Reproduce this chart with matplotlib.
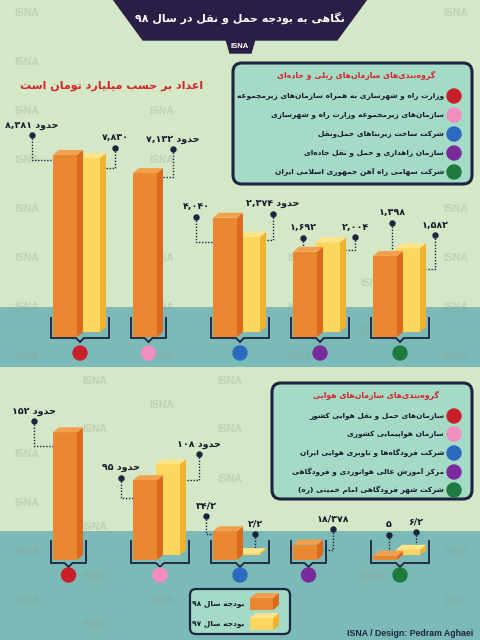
import re
import matplotlib
matplotlib.use("Agg")
import matplotlib.pyplot as plt
from matplotlib.patches import Polygon, FancyBboxPatch, Circle
from matplotlib.path import Path
from matplotlib.patches import PathPatch

# ------------------------------------------------------------------ data
rail_orgs = [
    "وزارت راه و شهرسازی به همراه سازمان‌های زیرمجموعه",
    "سازمان‌های زیرمجموعه وزارت راه و شهرسازی",
    "شرکت ساخت زیربناهای حمل‌ونقل",
    "سازمان راهداری و حمل و نقل جاده‌ای",
    "شرکت سهامی راه آهن جمهوری اسلامی ایران",
]
air_orgs = [
    "سازمان‌های حمل و نقل هوایی کشور",
    "سازمان هواپیمایی کشوری",
    "شرکت فرودگاه‌ها و ناوبری هوایی ایران",
    "مرکز آموزش عالی هوانوردی و فرودگاهی",
    "شرکت شهر فرودگاهی امام خمینی (ره)",
]
rail_98 = [8381, 7132, 4040, 1692, 1398]
rail_97 = [7830, None, 2374, 2004, 1582]
rail_98_approx = [True, True, False, False, False]
rail_97_approx = [False, False, True, False, False]
air_98 = [152, 95, 34.2, 18.378, 5]
air_97 = [None, 108, 2.2, None, 6.2]
air_98_approx = [True, True, False, False, False]
air_97_approx = [False, True, False, False, False]

title = "نگاهی به بودجه حمل و نقل در سال ۹۸"
subtitle = "اعداد بر حسب میلیارد تومان است"
rail_legend_title = "گروه‌بندی‌های سازمان‌های ریلی و جاده‌ای"
air_legend_title = "گروه‌بندی‌های سازمان‌های هوایی"
year_labels = ["بودجه سال ۹۸", "بودجه سال ۹۷"]
approx_word = "حدود"
credit = "ISNA / Design: Pedram Aghaei"

# ------------------------------------------------------------------ styles
group_colors = ["#c8202b", "#f28dc0", "#2a6bbf", "#7a2b9b", "#1f7a3d"]
BG = "#d4e7c6"
TEAL = "#7bbab7"
MINT = "#a4dac6"
NAVY = "#1c2440"
RED_TXT = "#d3262b"
OR = ("#ea8832", "#dc6a1e", "#f3a04e")   # front, side, top
YE = ("#fdd75d", "#f2b22e", "#fde489")
WM = "#8e9a8e"

# ------------------------------------------------------------------ persian shaping
FORMS = {
    '\u0627': ('\uFE8D', '\uFE8E', None, None),
    '\u0622': ('\uFE81', '\uFE82', None, None),
    '\u0628': ('\uFE8F', '\uFE90', '\uFE91', '\uFE92'),
    '\u067E': ('\uFB56', '\uFB57', '\uFB58', '\uFB59'),
    '\u062A': ('\uFE95', '\uFE96', '\uFE97', '\uFE98'),
    '\u062B': ('\uFE99', '\uFE9A', '\uFE9B', '\uFE9C'),
    '\u062C': ('\uFE9D', '\uFE9E', '\uFE9F', '\uFEA0'),
    '\u0686': ('\uFB7A', '\uFB7B', '\uFB7C', '\uFB7D'),
    '\u062D': ('\uFEA1', '\uFEA2', '\uFEA3', '\uFEA4'),
    '\u062E': ('\uFEA5', '\uFEA6', '\uFEA7', '\uFEA8'),
    '\u062F': ('\uFEA9', '\uFEAA', None, None),
    '\u0630': ('\uFEAB', '\uFEAC', None, None),
    '\u0631': ('\uFEAD', '\uFEAE', None, None),
    '\u0632': ('\uFEAF', '\uFEB0', None, None),
    '\u0698': ('\uFB8A', '\uFB8B', None, None),
    '\u0633': ('\uFEB1', '\uFEB2', '\uFEB3', '\uFEB4'),
    '\u0634': ('\uFEB5', '\uFEB6', '\uFEB7', '\uFEB8'),
    '\u0635': ('\uFEB9', '\uFEBA', '\uFEBB', '\uFEBC'),
    '\u0636': ('\uFEBD', '\uFEBE', '\uFEBF', '\uFEC0'),
    '\u0637': ('\uFEC1', '\uFEC2', '\uFEC3', '\uFEC4'),
    '\u0638': ('\uFEC5', '\uFEC6', '\uFEC7', '\uFEC8'),
    '\u0639': ('\uFEC9', '\uFECA', '\uFECB', '\uFECC'),
    '\u063A': ('\uFECD', '\uFECE', '\uFECF', '\uFED0'),
    '\u0641': ('\uFED1', '\uFED2', '\uFED3', '\uFED4'),
    '\u0642': ('\uFED5', '\uFED6', '\uFED7', '\uFED8'),
    '\u06A9': ('\uFB8E', '\uFB8F', '\uFB90', '\uFB91'),
    '\u0643': ('\uFED9', '\uFEDA', '\uFEDB', '\uFEDC'),
    '\u06AF': ('\uFB92', '\uFB93', '\uFB94', '\uFB95'),
    '\u0644': ('\uFEDD', '\uFEDE', '\uFEDF', '\uFEE0'),
    '\u0645': ('\uFEE1', '\uFEE2', '\uFEE3', '\uFEE4'),
    '\u0646': ('\uFEE5', '\uFEE6', '\uFEE7', '\uFEE8'),
    '\u0647': ('\uFEE9', '\uFEEA', '\uFEEB', '\uFEEC'),
    '\u0648': ('\uFEED', '\uFEEE', None, None),
    '\u06CC': ('\uFBFC', '\uFBFD', '\uFBFE', '\uFBFF'),
    '\u064A': ('\uFEF1', '\uFEF2', '\uFEF3', '\uFEF4'),
}


def _shape(s):
    out, i, n = [], 0, len(s)

    def joins_next(c):
        return c in FORMS and FORMS[c][2] is not None

    while i < n:
        c = s[i]
        if c not in FORMS:
            if c != '\u200c':
                out.append(c)
            i += 1
            continue
        cp = i > 0 and joins_next(s[i - 1])
        if c == '\u0644' and i + 1 < n and s[i + 1] in ('\u0627', '\u0622'):
            lig = ('\uFEFB', '\uFEFC') if s[i + 1] == '\u0627' else ('\uFEF5', '\uFEF6')
            out.append(lig[1] if cp else lig[0])
            i += 2
            continue
        cn = joins_next(c) and i + 1 < n and s[i + 1] in FORMS
        f = FORMS[c]
        out.append(f[3] if (cp and cn) else f[1] if cp else f[2] if cn else f[0])
        i += 1
    return ''.join(out)


_LTR = re.compile(r'[0-9\u06F0-\u06F9A-Za-z]+(?:[,./][0-9\u06F0-\u06F9]+)*')
_MIRROR = {'(': ')', ')': '('}


def fa(s):
    s = _shape(s)
    toks, pos = [], 0
    for m in _LTR.finditer(s):
        toks.extend(_MIRROR.get(ch, ch) for ch in s[pos:m.start()])
        toks.append(m.group())
        pos = m.end()
    toks.extend(_MIRROR.get(ch, ch) for ch in s[pos:])
    return ''.join(reversed(toks))


def fdig(t):
    return t.translate(str.maketrans('0123456789', '۰۱۲۳۴۵۶۷۸۹'))


FA = ['DejaVu Sans']

# ------------------------------------------------------------------ figure
W, H = 480, 640
fig = plt.figure(figsize=(W / 100, H / 100), dpi=100)
fig.patch.set_facecolor(BG)
bg = fig.add_axes([0, 0, 1, 1])
bg.set_xlim(0, W)
bg.set_ylim(H, 0)
bg.axis('off')

# areas that hide the watermark (banner, titles, boxes); value labels added later
covered = [(105, 0, 375, 58), (0, 72, 215, 100), (225, 55, 480, 192),
           (262, 375, 480, 507), (180, 582, 300, 640), (330, 620, 480, 640)]

# teal bands
bg.add_patch(plt.Rectangle((0, 307), W, 60, color=TEAL, zorder=0.3, lw=0))
bg.add_patch(plt.Rectangle((0, 531), W, H - 531, color=TEAL, zorder=0.3, lw=0))

# title banner
bg.add_patch(Polygon([(113, -1), (367, -1), (337, 40), (143, 40)], closed=True,
                     color="#2a1d46", zorder=3))
bg.add_patch(Polygon([(226, 39), (255, 39), (251, 53), (230, 53)], closed=True,
                     color="#2a1d46", zorder=3))
bg.text(240, 46.5, "ISNA", color='white', fontsize=5.5, fontweight='bold',
        family='Liberation Sans', ha='center', va='center', zorder=4)
bg.text(240, 18, fa(title), color='white', fontsize=7.9, fontweight='bold',
        family=FA, ha='center', va='center', zorder=4)

bg.text(112, 86, fa(subtitle), color=RED_TXT, fontsize=8.0, fontweight='bold',
        family=FA, ha='center', va='center', zorder=4)


def legend_box(x0, y0, x1, y1, title_txt, items, ys, text_right, circ_x):
    bg.add_patch(FancyBboxPatch((x0, y0), x1 - x0, y1 - y0,
                                boxstyle="round,pad=0,rounding_size=9",
                                fc=MINT, ec=NAVY, lw=2.2, zorder=3))
    bg.text((x0 + x1) / 2 + 4, y0 + 12, fa(title_txt), color=RED_TXT, fontsize=5.6,
            fontweight='bold', family=FA, ha='center', va='center', zorder=4)
    for txt, y, col in zip(items, ys, group_colors):
        bg.add_patch(Circle((circ_x, y), 7, color=col, zorder=4))
        bg.text(text_right, y, fa(txt), color='#15172a', fontsize=5.3,
                fontweight='bold', family=FA, ha='right', va='center', zorder=4)


legend_box(233, 63, 472, 184, rail_legend_title, rail_orgs,
           [96, 115, 134, 153, 172], 444, 454)
legend_box(272, 383, 472, 499, air_legend_title, air_orgs,
           [416, 434, 453, 472, 490], 444, 454)

# ------------------------------------------------------------------ bar axes
PX_X = 80.0       # px per group
X0 = 65.0         # px centre of first 98 bar
BAR_W = 24 / PX_X
YE_SHIFT_X = 23 / PX_X
DEPTH_X = 6 / PX_X
DEPTH_PX = 5.0


def make_axes(zero_px, ky):
    ax = fig.add_axes([0, 0, 1, 1])
    ax.set_xlim(-X0 / PX_X, (W - X0) / PX_X)
    ax.set_ylim((zero_px - H) / ky, zero_px / ky)
    ax.axis('off')
    ax.patch.set_alpha(0)
    return ax


def to_px(ax, x, y):
    dx, dy = ax.transData.transform((x, y))
    return dx, H - dy


def draw_box(ax, xc, bottom, top, cols, dy, z):
    xl, xr = xc - BAR_W / 2, xc + BAR_W / 2
    ax.bar(xc, top - bottom, bottom=bottom, width=BAR_W, color=cols[0], lw=0, zorder=z)
    ax.add_patch(Polygon([(xr, bottom), (xr + DEPTH_X, bottom + dy),
                          (xr + DEPTH_X, top + dy), (xr, top)], closed=True,
                         color=cols[1], lw=0, zorder=z))
    ax.add_patch(Polygon([(xl, top), (xl + DEPTH_X, top + dy),
                          (xr + DEPTH_X, top + dy), (xr, top)], closed=True,
                         color=cols[2], lw=0, zorder=z))


def leader(ax, xc, top, style, text, dy_shift=0.0):
    """style: (dot x offset from group left px, dot y offset from top px, join y offset px)"""
    ddx, ddy, jdy = style
    gx_left, _ = to_px(ax, xc - BAR_W / 2 - dy_shift, 0)
    bl, ty = to_px(ax, xc - BAR_W / 2, top)
    br, _ = to_px(ax, xc + BAR_W / 2 + DEPTH_X, top)
    dx_px = gx_left + ddx
    dy_px = ty + ddy
    ls = dict(color=NAVY, lw=1.0, linestyle=(0, (1, 1.2)), zorder=6)
    if dx_px < bl:
        bg.plot([dx_px, dx_px, bl], [dy_px, ty + jdy, ty + jdy], **ls)
    elif dx_px > br:
        bg.plot([dx_px, dx_px, br], [dy_px, ty + jdy, ty + jdy], **ls)
    else:
        bg.plot([dx_px, dx_px], [dy_px, ty - 2], **ls)
    bg.plot([dx_px], [dy_px], 'o', color=NAVY, ms=3.6, zorder=7)
    bg.text(dx_px, dy_px - 10, text, fontsize=6.8, fontweight='bold', family=FA,
            color='#15172a', ha='center', va='center', zorder=7)
    covered.append((dx_px - 28, dy_px - 16, dx_px + 28, dy_px - 4))


def fmt_rail(v):
    return fdig(f"{v:,}")


def fmt_air(v):
    return fdig(f"{v:g}".replace('.', '/'))


def panel(ax, ky, floor, v98, v97, a98, a97, st98, st97, fmt, br_y, circ_y):
    dy = DEPTH_PX / ky
    for i in range(len(v98)):
        xo = i
        xy = i + YE_SHIFT_X
        if v97[i] is not None:
            draw_box(ax, xy, floor + dy, v97[i] + dy, YE, dy, 2)
        draw_box(ax, xo, floor, v98[i], OR, dy, 3)
        lab = fmt(v98[i])
        if a98[i]:
            lab = fa(approx_word + " " + lab)
        leader(ax, xo, v98[i], st98[i], lab)
        if v97[i] is not None:
            lab = fmt(v97[i])
            if a97[i]:
                lab = fa(approx_word + " " + lab)
            leader(ax, xy, v97[i] + dy, st97[i], lab, dy_shift=YE_SHIFT_X)
        # bracket + colour dot
        left, _ = to_px(ax, xo - BAR_W / 2, 0)
        right_edge = (xy if v97[i] is not None else xo) + BAR_W / 2 + DEPTH_X
        right, _ = to_px(ax, right_edge, 0)
        a, b = left - 2, right + 3
        c = (a + b) / 2
        y1, y2 = br_y
        verts = [(a, y1), (a, y2), (c - 4, y2), (c, y2 + 4), (c + 4, y2), (b, y2), (b, y1)]
        bg.add_patch(PathPatch(Path(verts), fc='none', ec=NAVY, lw=1.3, zorder=1))
        bg.add_patch(Circle((c, circ_y), 7, color=group_colors[i], zorder=2))


# top (rail & road) panel: px = 276.2 - 0.01446*v, bars start at 337px
TOP_KY = 0.01446
ax_top = make_axes(276.2, TOP_KY)
top_floor = (276.2 - 337) / TOP_KY
rail_st98 = [(-21, -20, 5), (40, -24, 4), (-17, -1, 24), (10, -14, 0), (19, -33, 0)]
rail_st97 = [(62, -10, 10), None, (60, -23, 3), (62, -5, 8), (62, -13, 21)]
panel(ax_top, TOP_KY, top_floor, rail_98, rail_97, rail_98_approx, rail_97_approx,
      rail_st98, rail_st97, fmt_rail, (317, 338), 353)

# bottom (air) panel: px = 560 - 0.84*v
BOT_KY = 0.84
ax_bot = make_axes(560, BOT_KY)
air_st98 = [(-19, -11, 14), (-12, -2, 18), (-7, -15, 3), (40, -16, 5), (16, -21, 0)]
air_st97 = [None, (66, -10, 16), (42, -19, 0), None, (43, -18, 0)]
panel(ax_bot, BOT_KY, 0, air_98, air_97, air_98_approx, air_97_approx,
      air_st98, air_st97, fmt_air, (540, 563), 575)

# year legend
bg.add_patch(FancyBboxPatch((190, 589), 100, 45, boxstyle="round,pad=0,rounding_size=6",
                            fc=MINT, ec=NAVY, lw=1.6, zorder=3))
for (lab, cols, yc) in zip(year_labels, (OR, YE), (603, 623)):
    x0, x1 = 250, 273
    yt, yb = yc - 5, yc + 7
    bg.add_patch(Polygon([(x0, yt), (x1, yt), (x1, yb), (x0, yb)], color=cols[0], lw=0, zorder=4))
    bg.add_patch(Polygon([(x1, yt), (x1 + 6, yt - 5), (x1 + 6, yb - 5), (x1, yb)], color=cols[1], lw=0, zorder=4))
    bg.add_patch(Polygon([(x0, yt), (x0 + 6, yt - 5), (x1 + 6, yt - 5), (x1, yt)], color=cols[2], lw=0, zorder=4))
    bg.text(245, yc + 1, fa(lab), fontsize=5.4, fontweight='bold', family=FA,
            color='#15172a', ha='right', va='center', zorder=4)

bg.text(473, 633, credit, fontsize=6.3, fontweight='bold', family='Liberation Sans',
        color=NAVY, ha='right', va='center', zorder=4)

# faint ISNA watermark grid (behind everything)
for r in range(26):
    y = 13 + r * 24.5
    xs = [27, 162, 300, 456] if r % 2 == 0 else [95, 230, 373]
    for x in xs:
        if any(a - 16 <= x <= c + 16 and b - 6 <= y <= d + 6 for a, b, c, d in covered):
            continue
        bg.text(x, y, "ISNA", fontsize=7.5, fontweight='bold', family='Liberation Sans',
                color=WM, ha='center', va='center', zorder=0.5, alpha=0.28)

fig.savefig("out.png", dpi=100, facecolor=BG)
